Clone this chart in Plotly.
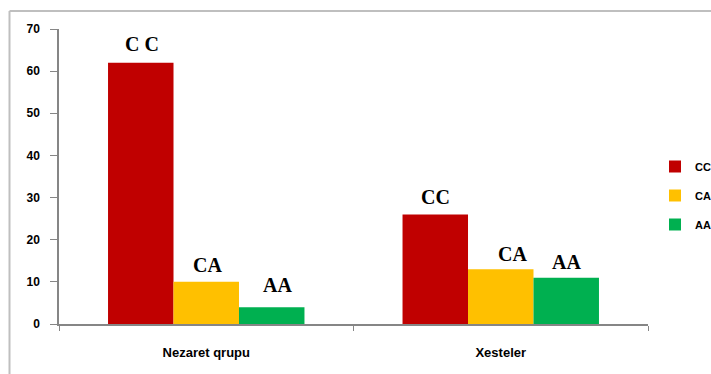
import plotly.graph_objects as go

groups = ["Nezaret qrupu", "Xesteler"]
genotypes = ["CC", "CA", "AA"]
values_cc = [62, 26]
values_ca = [10, 13]
values_aa = [4, 11]
labels_g1 = ["C C", "CA", "AA"]
labels_g2 = ["CC", "CA", "AA"]

colors = ["#C00000", "#FFC000", "#00B050"]
series = [values_cc, values_ca, values_aa]

W, H = 711, 374
ml, mr, mt, mb = 59, 63, 29, 50
pw, ph = W - ml - mr, H - mt - mb

fig = go.Figure()
for i, (name, vals) in enumerate(zip(genotypes, series)):
    fig.add_trace(go.Bar(
        x=groups, y=vals, name=name,
        marker=dict(color=colors[i], line=dict(width=0)),
        legendgroup=name,
    ))

# label placements (style): xshift px per bar, yshift px above bar top
bar_px = pw / 2 * (1 - 0.333) / 3
xoff = [[-bar_px + 1, 1, bar_px + 6], [-bar_px + 0.5, 12, bar_px]]
yoff = [[19, 17, 22], [17, 15, 16]]
annotations = []
for g, (grp, labs) in enumerate(zip(groups, [labels_g1, labels_g2])):
    for i in range(3):
        annotations.append(dict(
            x=grp, y=series[i][g], xref="x", yref="y",
            text=labs[i], showarrow=False,
            xshift=xoff[g][i], yshift=yoff[g][i],
            yanchor="middle", xanchor="center",
            font=dict(family="Liberation Serif", size=20, color="black", weight="bold"),
        ))

def px2x(p):
    return (p - ml) / pw

def py2y(p):
    return (H - mb - p) / ph

shapes = [
    dict(type="line", xref="paper", yref="paper",
         x0=px2x(9.5), x1=px2x(720), y0=py2y(11), y1=py2y(11),
         line=dict(color="#BFBFBF", width=2)),
    dict(type="line", xref="paper", yref="paper",
         x0=px2x(9.5), x1=px2x(9.5), y0=py2y(11), y1=py2y(380),
         line=dict(color="#BFBFBF", width=2)),
]

fig.update_layout(
    width=W, height=H,
    margin=dict(l=ml, r=mr, t=mt, b=mb, autoexpand=False),
    paper_bgcolor="white", plot_bgcolor="white",
    barmode="group", bargap=0.333, bargroupgap=0,
    showlegend=True,
    legend=dict(
        x=px2x(655), xanchor="left", y=py2y(152), yanchor="top",
        font=dict(family="Liberation Sans", size=11, color="black", weight="bold"),
        traceorder="grouped", tracegroupgap=10, itemwidth=30,
        bgcolor="rgba(0,0,0,0)",
    ),
    annotations=annotations,
    shapes=shapes,
    xaxis=dict(
        showline=True, linecolor="#868686", linewidth=1.5,
        ticks="outside", tickson="boundaries", ticklen=5, tickcolor="#868686",
        tickfont=dict(family="Liberation Sans", size=13, color="black", weight="bold"),
        ticklabelstandoff=16, showgrid=False,
    ),
    yaxis=dict(
        range=[0, 70], dtick=10, showline=True, linecolor="#868686", linewidth=1.5,
        ticks="outside", ticklen=7, tickcolor="#868686",
        tickfont=dict(family="Liberation Sans", size=12, color="black", weight="bold"),
        ticklabelstandoff=8, showgrid=False, zeroline=False,
    ),
)

fig.write_html("out.html")
